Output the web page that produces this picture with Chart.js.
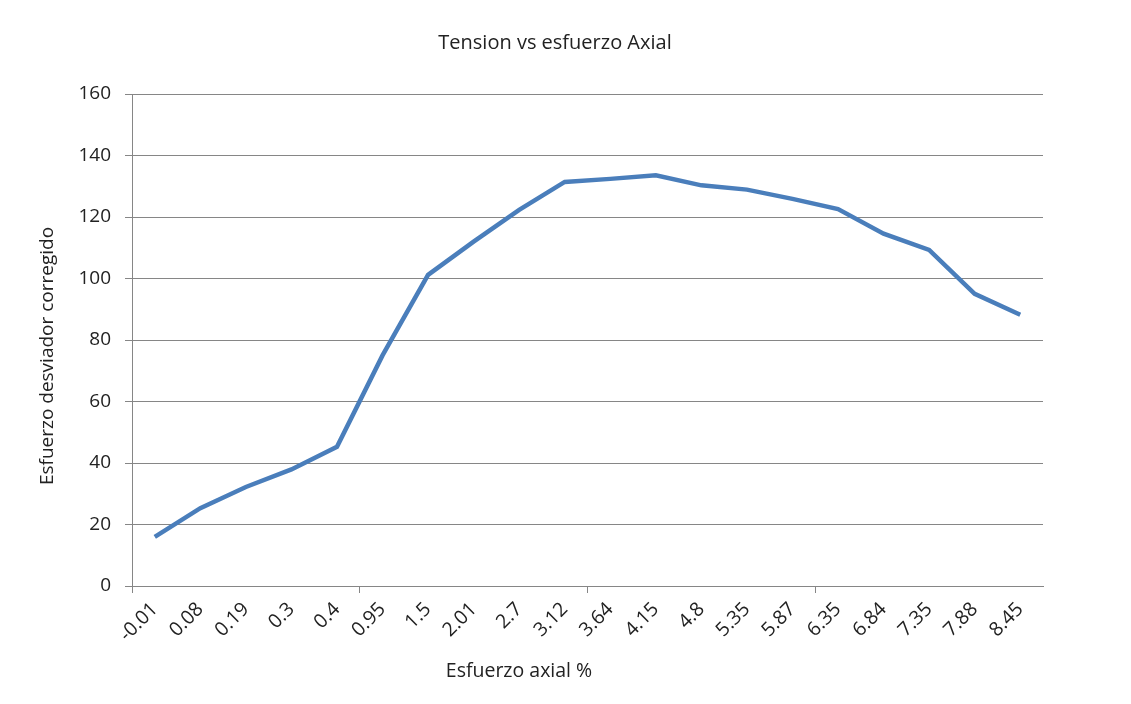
<!DOCTYPE html>
<html>
<head>
<meta charset="utf-8">
<title>Tension vs esfuerzo Axial</title>
<script src="https://cdn.jsdelivr.net/npm/chart.js@4"></script>
<style>
	body { margin: 0; background: #ffffff; }
	#wrap { width: 1131px; height: 704px; position: relative; }
</style>
</head>
<body>
<div id="wrap"><canvas id="chart" width="1131" height="704"></canvas></div>
<script>
// ----------------------------------------------------------------------
//	Tension vs esfuerzo Axial
// ----------------------------------------------------------------------
const axial = ["-0.01","0.08","0.19","0.3","0.4","0.95","1.5","2.01","2.7","3.12",
	"3.64","4.15","4.8","5.35","5.87","6.35","6.84","7.35","7.88","8.45"]
const desviador = [16.0,25.3,32.2,37.9,45.3,75.0,101.2,112.0,122.3,131.4,
	132.4,133.6,130.3,128.9,125.9,122.6,114.6,109.3,95.0,88.2]
const y_ticks = [0,20,40,60,80,100,120,140,160]

const title_text = "Tension vs esfuerzo Axial"
const x_title = "Esfuerzo axial %"
const y_title = "Esfuerzo desviador corregido"

const font_name = "'Open Sans', 'Liberation Sans', sans-serif"
const grid_color = "#868686"
const text_color = "#222222"

// ----------------------------------------------------------------------
//	titles drawn at the places they hold in the picture
const chart_texts = {
	id: "chart_texts",
	afterDraw (chart)
	{
		const ctx = chart.ctx
		ctx.save()
		ctx.fillStyle = text_color
		ctx.textAlign = "center"
		ctx.textBaseline = "middle"
		ctx.font = "20px " + font_name
		ctx.fillText (title_text, 555, 43)
		ctx.font = "19.5px " + font_name
		ctx.fillText (x_title, 519, 671)
		ctx.font = "19px " + font_name
		ctx.translate (48, 356)
		ctx.rotate (-Math.PI / 2)
		ctx.fillText (y_title, 0, 0)
		ctx.restore()
	}
}

// ----------------------------------------------------------------------
const config = {
	type: 'line',
	data: {
		labels: axial,
		datasets: [{
			label: "Esfuerzo desviador",
			data: desviador,
			borderColor: "#4a7ebb",
			borderWidth: 4.5,
			pointRadius: 0,
			lineTension: 0,
			fill: false
			}]
		},
	options: {
		responsive: false,
		animation: false,
		layout: { padding: { left: 0, right: 88, top: 94, bottom: 0 } },
		plugins: {
			legend: { display: false },
			tooltip: { enabled: false },
			title: { display: false }
			},
		scales: {
			x: {
				offset: true,
				afterFit (scale) { scale.height = 118 },
				grid: {
					offset: true,
					drawOnChartArea: false,
					tickLength: 7,
					color: (c) => (c.index % 5 === 0) ? grid_color : "rgba(0,0,0,0)"
					},
				border: { display: true, color: grid_color, width: 1 },
				ticks: {
					autoSkip: false,
					minRotation: 45,
					maxRotation: 45,
					color: text_color,
					padding: 5,
					font: { family: font_name, size: 19.5 }
					}
				},
			y: {
				min: 0,
				max: 160,
				afterFit (scale) { scale.width = 132 },
				afterBuildTicks (scale) { scale.ticks = y_ticks.map (v => ({ value: v })) },
				grid: { color: grid_color, tickLength: 7, lineWidth: 1 },
				border: { display: true, color: grid_color, width: 1 },
				ticks: {
					color: text_color,
					padding: 14,
					font: { family: font_name, size: 19 }
					}
				}
			}
		},
	plugins: [chart_texts]
	}

const chart = new Chart (document.getElementById ("chart"), config)
</script>
</body>
</html>
